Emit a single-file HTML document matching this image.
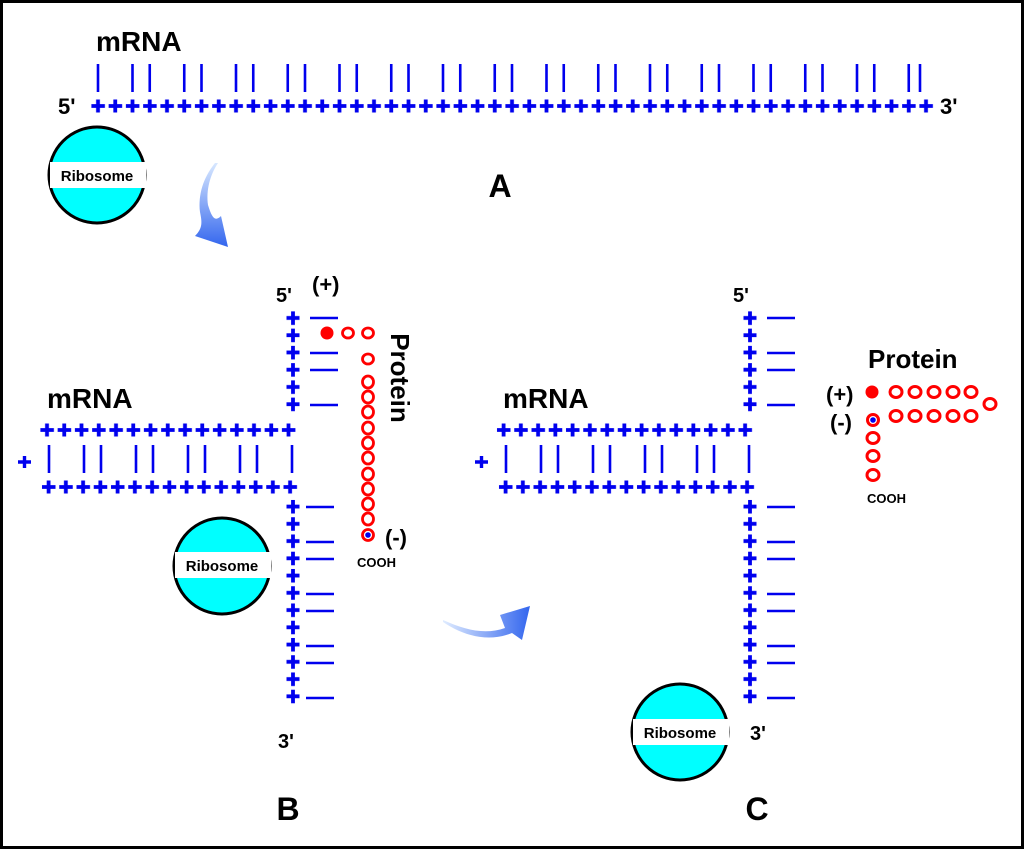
<!DOCTYPE html>
<html><head><meta charset="utf-8"><style>
html,body{margin:0;padding:0;background:#fff}
svg{display:block}
text{font-family:"Liberation Sans",Arial,sans-serif;font-weight:bold}
</style></head><body>
<svg width="1024" height="849" viewBox="0 0 1024 849" xmlns="http://www.w3.org/2000/svg">
<defs>
<pattern id="ph" width="17.25" height="16" patternUnits="userSpaceOnUse" x="89.4" y="98">
<path d="M2,8H15.5M8.6,1.5V14.5" stroke="#0000ee" stroke-width="3.8"/>
</pattern>
<pattern id="pv" width="16" height="17.25" patternUnits="userSpaceOnUse" x="285" y="309.4">
<path d="M1.5,8.6H14.5M8,2V15.5" stroke="#0000ee" stroke-width="3.8"/>
</pattern>
<pattern id="pb2" width="17.25" height="16" patternUnits="userSpaceOnUse" x="40" y="479">
<path d="M2,8H15.5M8.6,1.5V14.5" stroke="#0000ee" stroke-width="3.8"/>
</pattern>
<pattern id="pb1" width="17.25" height="16" patternUnits="userSpaceOnUse" x="38.4" y="422">
<path d="M2,8H15.5M8.6,1.5V14.5" stroke="#0000ee" stroke-width="3.8"/>
</pattern>
<pattern id="pc1" width="17.25" height="16" patternUnits="userSpaceOnUse" x="495" y="422">
<path d="M2,8H15.5M8.6,1.5V14.5" stroke="#0000ee" stroke-width="3.8"/>
</pattern>
<pattern id="pc2" width="17.25" height="16" patternUnits="userSpaceOnUse" x="497" y="479">
<path d="M2,8H15.5M8.6,1.5V14.5" stroke="#0000ee" stroke-width="3.8"/>
</pattern>
<pattern id="pvb" width="16" height="17.25" patternUnits="userSpaceOnUse" x="285" y="498">
<path d="M1.5,8.6H14.5M8,2V15.5" stroke="#0000ee" stroke-width="3.8"/>
</pattern>
<pattern id="pvc1" width="16" height="17.25" patternUnits="userSpaceOnUse" x="742" y="309.4">
<path d="M1.5,8.6H14.5M8,2V15.5" stroke="#0000ee" stroke-width="3.8"/>
</pattern>
<pattern id="pvc2" width="16" height="17.25" patternUnits="userSpaceOnUse" x="742" y="498">
<path d="M1.5,8.6H14.5M8,2V15.5" stroke="#0000ee" stroke-width="3.8"/>
</pattern>
<linearGradient id="ga" x1="0" y1="0" x2="0" y2="1"><stop offset="0" stop-color="#d8e8ff"/><stop offset="1" stop-color="#3366ee"/></linearGradient>
<linearGradient id="gb" x1="0" y1="0" x2="1" y2="0"><stop offset="0" stop-color="#e0ecff"/><stop offset="1" stop-color="#3366ee"/></linearGradient>
</defs>
<rect x="1.5" y="1.5" width="1021" height="846" fill="#fff" stroke="#000" stroke-width="3"/>

<!-- Panel A -->
<text x="96" y="51" font-size="28">mRNA</text>
<text x="58" y="114" font-size="22">5'</text>
<text x="940" y="114" font-size="22">3'</text>
<rect x="89.4" y="98" width="845.25" height="16" fill="url(#ph)"/>
<g stroke="#0000ee" stroke-width="2.6">
<path d="M98,64V92 M132.5,64V92M149.75,64V92 M184.25,64V92M201.5,64V92 M236,64V92M253.25,64V92 M287.75,64V92M305,64V92 M339.5,64V92M356.75,64V92 M391.25,64V92M408.5,64V92 M443,64V92M460.25,64V92 M494.75,64V92M512,64V92 M546.5,64V92M563.75,64V92 M598.25,64V92M615.5,64V92 M650,64V92M667.25,64V92 M701.75,64V92M719,64V92 M753.5,64V92M770.75,64V92 M805.25,64V92M822.5,64V92 M857,64V92M874.25,64V92 M908.75,64V92M920,64V92"/>
</g>
<circle cx="97" cy="175" r="48" fill="#00ffff" stroke="#000" stroke-width="3"/>
<rect x="50" y="162" width="96" height="26" fill="#fff"/>
<text x="97" y="181" font-size="15" text-anchor="middle">Ribosome</text>
<path d="M215,163 C203,178 198,195 200,212 C202,222 203,228 195,236 L228,247 L221,216 C215,222 212,218 208,205 C206,190 210,175 218,163 Z" fill="url(#ga)"/>
<text x="500" y="197" font-size="32" text-anchor="middle">A</text>

<!-- Panel B -->
<text x="276" y="302" font-size="20">5'</text>
<text x="312" y="292" font-size="22">(+)</text>
<rect x="285" y="309.4" width="16" height="103.5" fill="url(#pv)"/>
<rect x="285" y="498" width="16" height="207" fill="url(#pvb)"/>
<rect x="38.4" y="422" width="258.75" height="16" fill="url(#pb1)"/>
<rect x="40" y="479" width="258.75" height="16" fill="url(#pb2)"/>
<g stroke="#0000ee" stroke-width="2.6" fill="none">
<path d="M310,318H338M310,353H338M310,370H338M310,405H338"/>
<path d="M306,507H334M306,542H334M306,559H334M306,594H334M306,611H334M306,646H334M306,663H334M306,698H334"/>
<path d="M49,445V473M84,445V473M101,445V473M136,445V473M153,445V473M188,445V473M205,445V473M240,445V473M257,445V473M292,445V473"/>
<path d="M18,462H31M24.5,456V468" stroke-width="3.4"/>
</g>
<text x="47" y="408" font-size="28">mRNA</text>
<g fill="none" stroke="#ff0000" stroke-width="2.8">
<ellipse cx="348" cy="333" rx="5.5" ry="5"/><ellipse cx="368" cy="333" rx="5.5" ry="5"/>
<ellipse cx="368" cy="359" rx="5.5" ry="5"/>
<ellipse cx="368" cy="382" rx="5.5" ry="6"/><ellipse cx="368" cy="397" rx="5.5" ry="6"/><ellipse cx="368" cy="412" rx="5.5" ry="6"/><ellipse cx="368" cy="428" rx="5.5" ry="6"/><ellipse cx="368" cy="443" rx="5.5" ry="6"/><ellipse cx="368" cy="458" rx="5.5" ry="6"/><ellipse cx="368" cy="474" rx="5.5" ry="6"/><ellipse cx="368" cy="489" rx="5.5" ry="6"/><ellipse cx="368" cy="504" rx="5.5" ry="6"/><ellipse cx="368" cy="519" rx="5.5" ry="6"/>
<circle cx="368" cy="535" r="5.5"/>
</g>
<circle cx="327" cy="333" r="6.5" fill="#ff0000"/>
<circle cx="368" cy="535" r="2.8" fill="#0000ee"/>
<text x="400" y="378" font-size="26" transform="rotate(90 400 378)" text-anchor="middle" dominant-baseline="central">Protein</text>
<text x="385" y="545" font-size="22">(-)</text>
<text x="357" y="567" font-size="13" font-weight="normal">COOH</text>
<circle cx="222" cy="566" r="48" fill="#00ffff" stroke="#000" stroke-width="3"/>
<rect x="175" y="552" width="96" height="26" fill="#fff"/>
<text x="222" y="571" font-size="15" text-anchor="middle">Ribosome</text>
<text x="278" y="748" font-size="20">3'</text>
<text x="288" y="820" font-size="32" text-anchor="middle">B</text>

<path d="M443,620 C465,630 485,635 505,628 L500,615 L530,606 L522,640 L512,633 C490,642 465,637 443,622 Z" fill="url(#gb)"/>

<!-- Panel C -->
<text x="733" y="302" font-size="20">5'</text>
<rect x="495" y="422" width="258.75" height="16" fill="url(#pc1)"/>
<rect x="497" y="479" width="258.75" height="16" fill="url(#pc2)"/>
<rect x="742" y="309.4" width="16" height="103.5" fill="url(#pvc1)"/>
<rect x="742" y="498" width="16" height="207" fill="url(#pvc2)"/>
<g stroke="#0000ee" stroke-width="2.6" fill="none">
<path d="M767,318H795M767,353H795M767,370H795M767,405H795"/>
<path d="M767,507H795M767,542H795M767,559H795M767,594H795M767,611H795M767,646H795M767,663H795M767,698H795"/>
<path d="M506,445V473M541,445V473M558,445V473M593,445V473M610,445V473M645,445V473M662,445V473M697,445V473M714,445V473M749,445V473"/>
<path d="M475,462H488M481.5,456V468" stroke-width="3.4"/>
</g>
<text x="503" y="408" font-size="28">mRNA</text>
<text x="868" y="368" font-size="26">Protein</text>
<text x="826" y="402" font-size="22">(+)</text>
<text x="830" y="430" font-size="22">(-)</text>
<g fill="none" stroke="#ff0000" stroke-width="3">
<ellipse cx="896" cy="392" rx="6" ry="5.5"/><ellipse cx="915" cy="392" rx="6" ry="5.5"/><ellipse cx="934" cy="392" rx="6" ry="5.5"/><ellipse cx="953" cy="392" rx="6" ry="5.5"/><ellipse cx="971" cy="392" rx="6" ry="5.5"/>
<ellipse cx="990" cy="404" rx="6" ry="5.5"/>
<ellipse cx="896" cy="416" rx="6" ry="5.5"/><ellipse cx="915" cy="416" rx="6" ry="5.5"/><ellipse cx="934" cy="416" rx="6" ry="5.5"/><ellipse cx="953" cy="416" rx="6" ry="5.5"/><ellipse cx="971" cy="416" rx="6" ry="5.5"/>
<circle cx="873" cy="420" r="5.5"/>
<ellipse cx="873" cy="438" rx="6" ry="5.5"/><ellipse cx="873" cy="456" rx="6" ry="5.5"/><ellipse cx="873" cy="475" rx="6" ry="5.5"/>
</g>
<circle cx="872" cy="392" r="6.5" fill="#ff0000"/>
<circle cx="873" cy="420" r="2.8" fill="#0000ee"/>
<text x="867" y="503" font-size="13" font-weight="normal">COOH</text>
<circle cx="680" cy="732" r="48" fill="#00ffff" stroke="#000" stroke-width="3"/>
<rect x="633" y="719" width="96" height="26" fill="#fff"/>
<text x="680" y="738" font-size="15" text-anchor="middle">Ribosome</text>
<text x="750" y="740" font-size="20">3'</text>
<text x="757" y="820" font-size="32" text-anchor="middle">C</text>
</svg>
</body></html>
